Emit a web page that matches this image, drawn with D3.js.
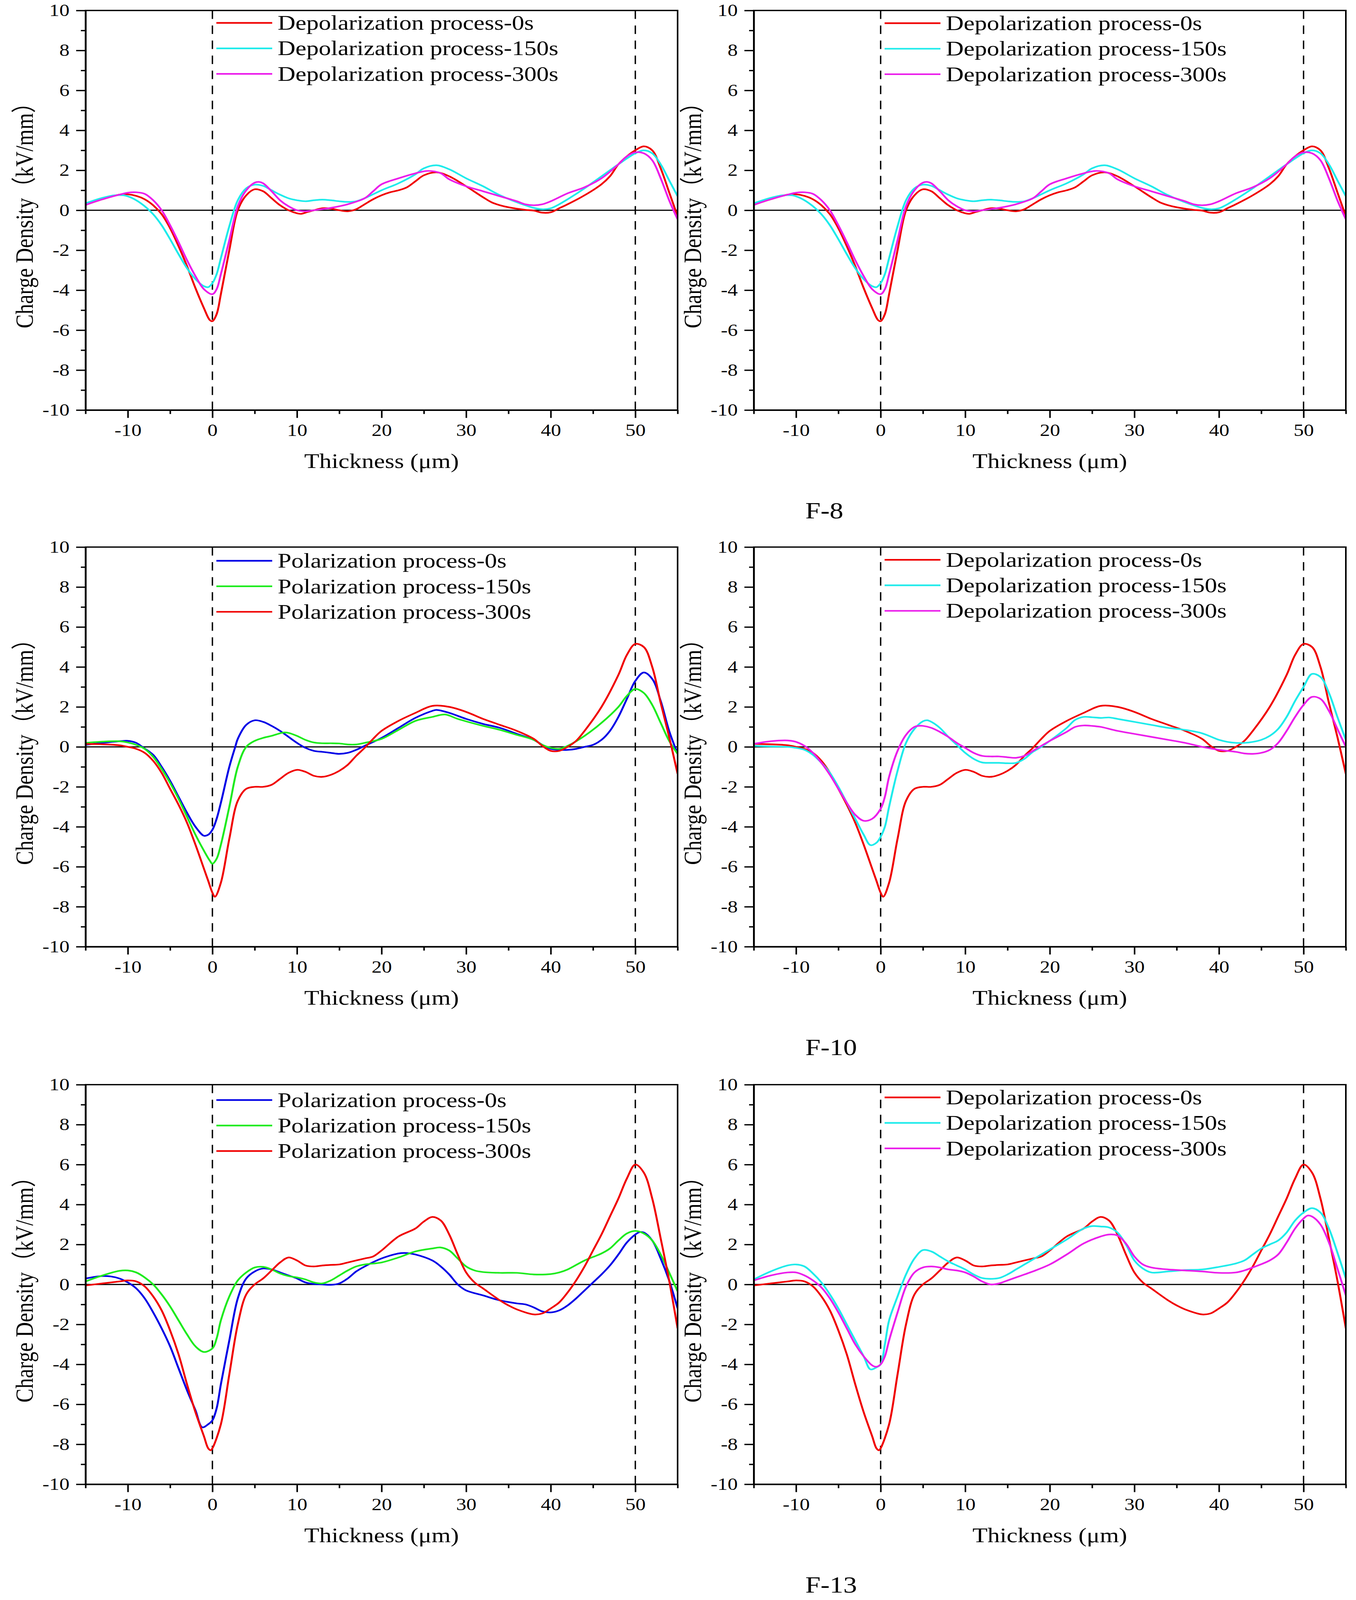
<!DOCTYPE html>
<html>
<head>
<meta charset="utf-8">
<script src="https://cdn.jsdelivr.net/npm/d3@7/dist/d3.min.js"></script>
<style>
  html, body { margin: 0; padding: 0; background: #ffffff; overflow: hidden; }
  svg { display: block; }
  text { font-family: "Liberation Serif", "Times New Roman", "Noto Sans CJK SC", serif; fill: #000; }
</style>
</head>
<body>
<script>
// ---------------- DATA ----------------
const xMajorTicks = [-10, 0, 10, 20, 30, 40, 50];
const xMinorTicks = [-15, -5, 5, 15, 25, 35, 45, 55];
const yMajorTicks = [-10, -8, -6, -4, -2, 0, 2, 4, 6, 8, 10];
const yMinorTicks = [-9, -7, -5, -3, -1, 1, 3, 5, 7, 9];
const electrodeLines = [0, 50];

const depolLabels = ["Depolarization process-0s", "Depolarization process-150s", "Depolarization process-300s"];
const polLabels = ["Polarization process-0s", "Polarization process-150s", "Polarization process-300s"];
const sampleLabels = ["F-8", "F-10", "F-13"];

// F-8, depolarization
const f8Depol0 = [[-15,0.27],[-13,0.55],[-11,0.78],[-10,0.8],[-9,0.72],[-8,0.55],[-7,0.25],[-6,-0.2],[-5,-0.9],[-4,-1.8],[-3,-2.8],[-2,-3.9],[-1,-4.9],[-0.3,-5.5],[0,-5.55],[0.5,-5.2],[1,-4.2],[2,-2.0],[3,0.0],[4,0.75],[5,1.05],[6,0.95],[7,0.6],[8,0.25],[9,0.0],[10,-0.15],[10.5,-0.18],[11,-0.12],[12,0.0],[13,0.1],[14,0.08],[15,0.0],[16,-0.05],[17,0.05],[18,0.3],[19,0.55],[20,0.75],[21,0.9],[22,1.0],[23,1.15],[24,1.45],[25,1.75],[26.5,1.9],[28,1.7],[30,1.2],[32,0.65],[33,0.4],[34,0.25],[35,0.15],[37,0.02],[38,-0.02],[39,-0.12],[40,-0.1],[41,0.1],[42,0.3],[44,0.75],[46,1.3],[47,1.7],[48,2.3],[49,2.7],[50,3.0],[51,3.2],[52,3.0],[53,2.1],[54,0.9],[55,-0.3]];
const f8Depol150 = [[-15,0.35],[-13,0.62],[-11.5,0.75],[-10.5,0.75],[-10,0.7],[-9,0.5],[-8,0.2],[-7,-0.2],[-6,-0.75],[-5,-1.45],[-4,-2.2],[-3,-2.9],[-2,-3.45],[-1,-3.8],[-0.5,-3.85],[0,-3.65],[0.5,-3.2],[1,-2.4],[2,-0.8],[3,0.5],[4,1.1],[5,1.28],[6,1.22],[7,1.0],[8,0.78],[9,0.6],[10,0.5],[11,0.45],[12,0.5],[13,0.53],[14,0.5],[15,0.45],[16,0.42],[17,0.45],[18,0.6],[20,1.0],[22,1.35],[24,1.8],[25,2.1],[26.5,2.25],[28,2.05],[30,1.6],[32,1.2],[34,0.75],[36,0.4],[38,0.12],[39,0.05],[40,0.1],[41,0.3],[42,0.55],[44,1.1],[46,1.7],[48,2.3],[50,2.85],[51,3.0],[52,2.85],[53,2.3],[54,1.5],[55,0.7]];
const f8Depol300 = [[-15,0.27],[-13,0.55],[-11,0.78],[-10,0.88],[-9,0.9],[-8,0.82],[-7,0.5],[-6,0.0],[-5,-0.75],[-4,-1.6],[-3,-2.5],[-2,-3.3],[-1,-3.95],[0,-4.2],[0.5,-3.95],[1,-3.2],[2,-1.5],[3,0.2],[4,1.0],[5,1.38],[5.5,1.42],[6,1.35],[7,0.95],[8,0.5],[9,0.2],[10,0.0],[11,-0.05],[12,0.0],[14,0.12],[16,0.3],[18,0.6],[19,0.95],[20,1.3],[22,1.6],[24,1.85],[25.5,1.97],[27,1.85],[28,1.55],[30,1.2],[32,0.95],[34,0.7],[36,0.45],[37,0.3],[38,0.25],[39,0.3],[40,0.45],[42,0.85],[44,1.15],[46,1.6],[48,2.3],[49,2.7],[50,2.9],[51,2.85],[52,2.5],[53,1.6],[54,0.5],[55,-0.45]];

// F-10, polarization
const f10Pol0 = [[-15,0.1],[-13,0.2],[-11,0.28],[-10,0.3],[-9,0.2],[-8.3,0.0],[-7,-0.4],[-6,-1.0],[-5,-1.7],[-4,-2.5],[-3,-3.3],[-2,-4.0],[-1,-4.45],[-0.5,-4.4],[0,-4.15],[0.5,-3.6],[1,-2.8],[2,-1.0],[2.7,0.0],[3,0.4],[4,1.1],[5,1.33],[6,1.25],[7,1.05],[8,0.8],[9,0.5],[10,0.2],[11,-0.05],[12,-0.2],[13,-0.25],[14,-0.3],[15,-0.35],[16,-0.3],[17,-0.15],[18,0.05],[20,0.45],[22,0.95],[24,1.45],[26,1.8],[26.5,1.85],[28,1.7],[30,1.4],[32,1.15],[34,0.95],[36,0.65],[38,0.35],[39,0.1],[40,-0.1],[41,-0.15],[42,-0.15],[43,-0.1],[44,0.0],[45,0.1],[46,0.35],[47,0.8],[48,1.5],[49,2.4],[50,3.3],[51,3.72],[52,3.4],[53,2.3],[54,0.8],[55,-0.35]];
const f10Pol150 = [[-15,0.2],[-13,0.26],[-11,0.28],[-10,0.22],[-9,0.1],[-8,-0.1],[-7,-0.5],[-6,-1.1],[-5,-1.8],[-4,-2.6],[-3,-3.5],[-2,-4.4],[-1,-5.2],[-0.3,-5.7],[0,-5.85],[0.5,-5.6],[1,-4.9],[2,-3.0],[3,-1.0],[4,0.0],[5,0.3],[6,0.45],[7,0.55],[8,0.68],[8.5,0.72],[9,0.7],[10,0.55],[11,0.35],[12,0.22],[13,0.18],[14,0.18],[15,0.17],[16,0.12],[17,0.12],[18,0.2],[20,0.4],[22,0.85],[24,1.3],[26,1.5],[27.5,1.62],[29,1.4],[32,1.05],[34,0.85],[36,0.6],[38,0.35],[39,0.1],[40,-0.05],[41,-0.1],[42,0.05],[44,0.55],[46,1.2],[48,2.0],[49,2.55],[50,2.9],[51,2.7],[52,2.1],[53,1.2],[54,0.3],[55,-0.35]];
const f10Pol300 = [[-15,0.15],[-13,0.13],[-11,0.08],[-10,0.0],[-9,-0.1],[-8,-0.3],[-7,-0.7],[-6,-1.3],[-5,-2.1],[-4,-2.9],[-3,-3.8],[-2,-4.9],[-1,-6.1],[-0.5,-6.7],[0,-7.3],[0.3,-7.5],[1,-6.8],[2,-4.6],[3,-2.7],[4,-2.1],[5,-2.0],[6,-2.0],[7,-1.9],[8,-1.6],[9,-1.3],[10,-1.15],[11,-1.25],[12,-1.45],[13,-1.5],[14,-1.4],[15,-1.2],[16,-0.9],[17,-0.45],[18,-0.05],[19,0.4],[20,0.8],[22,1.3],[24,1.7],[26,2.05],[28,2.0],[30,1.75],[32,1.4],[34,1.1],[36,0.8],[38,0.4],[39,0.05],[40,-0.2],[41,-0.2],[42,0.0],[43,0.3],[44,0.8],[46,2.0],[48,3.6],[49,4.6],[50,5.15],[51,5.0],[52,4.0],[53,2.2],[54,0.5],[55,-1.35]];
// F-10, depolarization (0s curve is the same measurement as polarization 300s)
const f10Depol0 = f10Pol300;
const f10Depol150 = [[-15,0.05],[-13,0.02],[-11,0.0],[-10,-0.05],[-9,-0.15],[-8,-0.4],[-7,-0.8],[-6,-1.3],[-5,-2.0],[-4,-2.8],[-3,-3.6],[-2,-4.4],[-1.2,-4.92],[-0.5,-4.8],[0,-4.5],[0.5,-4.0],[1,-3.0],[2,-1.2],[3,0.2],[4,0.9],[5,1.28],[5.5,1.33],[6,1.25],[7,0.95],[8,0.5],[9,0.1],[10,-0.3],[11,-0.6],[12,-0.78],[13,-0.8],[14,-0.8],[15,-0.82],[16,-0.8],[17,-0.6],[18,-0.25],[19,0.0],[20,0.3],[22,0.95],[23,1.35],[24,1.5],[25,1.48],[26,1.45],[27,1.47],[28,1.4],[30,1.25],[32,1.1],[34,0.95],[36,0.85],[38,0.68],[40,0.35],[41,0.25],[42,0.2],[43,0.2],[44,0.25],[45,0.35],[46,0.55],[47,0.9],[48,1.5],[49,2.3],[50,3.0],[51,3.65],[52,3.5],[53,2.7],[54,1.5],[55,0.35]];
const f10Depol300 = [[-15,0.15],[-13,0.28],[-11,0.32],[-10,0.25],[-9,0.05],[-8,-0.3],[-7,-0.8],[-6,-1.4],[-5,-2.1],[-4,-2.8],[-3,-3.4],[-2,-3.7],[-1,-3.6],[0,-3.1],[0.5,-2.5],[1,-1.5],[2,-0.2],[3,0.6],[4,1.0],[4.5,1.05],[5,1.05],[6,0.95],[7,0.75],[8,0.5],[9,0.2],[10,-0.05],[11,-0.3],[12,-0.45],[13,-0.48],[14,-0.48],[15,-0.52],[16,-0.55],[17,-0.45],[18,-0.2],[19,0.05],[20,0.3],[22,0.75],[23,1.0],[24,1.07],[25,1.05],[26,1.0],[28,0.8],[30,0.65],[32,0.5],[34,0.35],[36,0.2],[38,0.0],[40,-0.15],[42,-0.25],[43,-0.33],[44,-0.35],[45,-0.3],[46,-0.15],[47,0.2],[48,0.8],[49,1.5],[50,2.1],[51,2.5],[52,2.4],[53,1.8],[54,0.9],[55,0.0]];

// F-13, polarization
const f13Pol0 = [[-15,0.3],[-13,0.42],[-12,0.4],[-11,0.3],[-10,0.1],[-9,-0.2],[-8,-0.7],[-7,-1.4],[-6,-2.2],[-5,-3.1],[-4,-4.2],[-3,-5.3],[-2,-6.3],[-1.2,-7.15],[-0.5,-7.0],[0,-6.8],[0.5,-6.2],[1,-5.0],[2,-2.8],[3,-0.7],[4,0.3],[5,0.65],[6,0.8],[7,0.75],[8,0.6],[9,0.45],[10,0.3],[11,0.1],[12,0.02],[13,0.0],[14,-0.02],[15,0.05],[16,0.3],[17,0.65],[18,0.9],[20,1.3],[22,1.55],[23,1.57],[24,1.5],[26,1.2],[27,0.9],[28,0.5],[29,0.0],[30,-0.3],[32,-0.55],[34,-0.8],[36,-0.95],[37,-1.0],[38,-1.15],[39,-1.35],[40,-1.4],[41,-1.3],[42,-1.05],[43,-0.7],[44,-0.3],[45,0.1],[46,0.5],[47,0.95],[48,1.5],[49,2.1],[50,2.5],[50.5,2.62],[51,2.6],[52,2.2],[53,1.3],[54,0.2],[55,-1.2]];
const f13Pol150 = [[-15,0.15],[-13,0.45],[-11,0.68],[-10,0.7],[-9,0.6],[-8,0.35],[-7,0.0],[-6,-0.5],[-5,-1.1],[-4,-1.8],[-3,-2.5],[-2,-3.1],[-1,-3.38],[0,-3.2],[0.5,-2.7],[1,-1.8],[2,-0.6],[3,0.2],[4,0.6],[5,0.85],[6,0.88],[7,0.75],[8,0.55],[9,0.42],[10,0.35],[11,0.25],[12,0.1],[13,0.05],[14,0.2],[15,0.45],[16,0.7],[17,0.9],[18,1.0],[20,1.1],[22,1.35],[24,1.65],[26,1.8],[27,1.85],[28,1.7],[29,1.3],[30,0.9],[31,0.7],[32,0.62],[34,0.58],[36,0.58],[38,0.5],[40,0.52],[41,0.6],[42,0.75],[44,1.2],[46,1.55],[47,1.8],[48,2.2],[49,2.55],[50,2.68],[51,2.55],[52,2.2],[53,1.5],[54,0.6],[55,-0.35]];
const f13Pol300 = [[-15,-0.05],[-13,0.05],[-11,0.15],[-10,0.2],[-9,0.15],[-8,-0.1],[-7,-0.6],[-6,-1.3],[-5,-2.3],[-4,-3.5],[-3,-5.0],[-2,-6.4],[-1,-7.6],[-0.5,-8.2],[-0.2,-8.3],[0,-8.2],[1,-7.0],[2,-4.5],[3,-2.0],[4,-0.5],[5,0.0],[6,0.3],[7,0.7],[8,1.1],[9,1.35],[10,1.2],[11,0.95],[12,0.9],[13,0.95],[14,0.98],[15,1.0],[16,1.1],[17,1.2],[18,1.3],[19,1.4],[20,1.7],[22,2.4],[24,2.8],[25,3.15],[26,3.38],[27,3.2],[28,2.5],[29,1.5],[30,0.6],[31,0.1],[32,-0.2],[34,-0.8],[35,-1.05],[36,-1.25],[38,-1.5],[39,-1.45],[40,-1.2],[41,-0.9],[42,-0.4],[43,0.2],[44,0.9],[45,1.7],[46,2.5],[47,3.4],[48,4.3],[49,5.3],[50,6.0],[51,5.6],[52,4.3],[53,2.3],[54,0.2],[55,-2.2]];
// F-13, depolarization
const f13Depol0 = f13Pol300;
const f13Depol150 = [[-15,0.25],[-13,0.65],[-11,0.95],[-10,1.0],[-9,0.9],[-8,0.55],[-7,0.1],[-6,-0.5],[-5,-1.2],[-4,-2.0],[-3,-2.8],[-2,-3.6],[-1.2,-4.25],[-0.5,-4.15],[0,-4.0],[0.5,-3.0],[1,-1.8],[2,-0.6],[3,0.5],[4,1.3],[5,1.72],[6,1.65],[7,1.4],[8,1.15],[9,0.95],[10,0.75],[11,0.5],[12,0.32],[13,0.28],[14,0.32],[15,0.5],[16,0.75],[17,1.0],[18,1.25],[20,1.75],[22,2.25],[24,2.8],[25,2.92],[26,2.9],[27,2.85],[28,2.6],[29,2.0],[30,1.2],[31,0.8],[32,0.6],[34,0.65],[36,0.72],[38,0.75],[40,0.88],[42,1.05],[43,1.2],[44,1.5],[45,1.8],[46,2.0],[47,2.2],[48,2.6],[49,3.2],[50,3.6],[51,3.82],[52,3.6],[53,2.8],[54,1.6],[55,0.3]];
const f13Depol300 = [[-15,0.2],[-13,0.45],[-11,0.6],[-10,0.6],[-9,0.45],[-8,0.2],[-7,-0.15],[-6,-0.7],[-5,-1.4],[-4,-2.2],[-3,-3.0],[-2,-3.6],[-1,-4.05],[-0.5,-4.12],[0,-4.0],[0.5,-3.6],[1,-2.8],[2,-1.4],[3,-0.1],[4,0.6],[5,0.85],[6,0.9],[7,0.85],[8,0.75],[9,0.7],[10,0.6],[11,0.4],[12,0.15],[13,0.0],[14,0.05],[15,0.2],[16,0.35],[17,0.5],[18,0.65],[20,1.0],[22,1.5],[24,2.05],[26,2.4],[27,2.5],[28,2.45],[29,2.05],[30,1.4],[31,1.0],[32,0.85],[34,0.75],[36,0.7],[38,0.65],[40,0.58],[42,0.6],[43,0.7],[44,0.85],[46,1.2],[47,1.5],[48,2.1],[49,2.8],[50,3.3],[50.5,3.45],[51,3.4],[52,3.0],[53,2.1],[54,0.8],[55,-0.55]];

// ---------------- STYLE / LAYOUT ----------------
const RED = "#f00000", CYAN = "#1eebeb", MAGENTA = "#eb1eeb", BLUE = "#0000e6", GREEN = "#1eeb1e";
const W = 3472, H = 4893;
const rowTops = [32, 1673, 3317];
const colLefts = [219, 1930];
const PW = 1516, PH = 1222;

const panels = [
  { row: 0, col: 0, labels: depolLabels, colors: [RED, CYAN, MAGENTA], series: [f8Depol0, f8Depol150, f8Depol300], legTop: 38 },
  { row: 0, col: 1, labels: depolLabels, colors: [RED, CYAN, MAGENTA], series: [f8Depol0, f8Depol150, f8Depol300], legTop: 39 },
  { row: 1, col: 0, labels: polLabels,   colors: [BLUE, GREEN, RED],   series: [f10Pol0, f10Pol150, f10Pol300],   legTop: 42 },
  { row: 1, col: 1, labels: depolLabels, colors: [RED, CYAN, MAGENTA], series: [f10Depol0, f10Depol150, f10Depol300], legTop: 39 },
  { row: 2, col: 0, labels: polLabels,   colors: [BLUE, GREEN, RED],   series: [f13Pol0, f13Pol150, f13Pol300],   legTop: 47 },
  { row: 2, col: 1, labels: depolLabels, colors: [RED, CYAN, MAGENTA], series: [f13Depol0, f13Depol150, f13Depol300], legTop: 39 }
];

// Fit the full 3472x4893 drawing into whatever viewport the page gets.
const vw = window.innerWidth || W, vh = window.innerHeight || H;
const svg = d3.select("body").append("svg")
  .attr("width", vw).attr("height", vh)
  .attr("viewBox", `0 0 ${W} ${H}`)
  .attr("preserveAspectRatio", "none");
svg.append("rect").attr("width", W).attr("height", H).attr("fill", "#fff");

const x = d3.scaleLinear().domain([-15, 55]).range([0, PW]);
const y = d3.scaleLinear().domain([-10, 10]).range([PH, 0]);
const line = d3.line().x(d => x(d[0])).y(d => y(d[1])).curve(d3.curveCatmullRom.alpha(0.5));
const fmt = d => String(d);

panels.forEach((p, i) => {
  const g = svg.append("g").attr("transform", `translate(${colLefts[p.col]},${rowTops[p.row]})`);
  const clipId = "clip" + i;
  g.append("clipPath").attr("id", clipId).append("rect")
    .attr("x", 0).attr("y", 0).attr("width", PW).attr("height", PH);

  // zero line
  g.append("line").attr("x1", 0).attr("x2", PW).attr("y1", y(0)).attr("y2", y(0))
    .attr("stroke", "#000").attr("stroke-width", 3.5);

  // electrode dashed lines
  g.selectAll("line.elec").data(electrodeLines).enter().append("line")
    .attr("class", "elec")
    .attr("x1", d => x(d)).attr("x2", d => x(d))
    .attr("y1", PH).attr("y2", 0)
    .attr("stroke", "#000").attr("stroke-width", 3.5)
    .attr("stroke-dasharray", "26,20");

  // curves
  const cg = g.append("g").attr("clip-path", `url(#${clipId})`);
  p.series.forEach((s, k) => {
    cg.append("path").datum(s).attr("d", line)
      .attr("fill", "none").attr("stroke", p.colors[k])
      .attr("stroke-width", 5).attr("stroke-linejoin", "round");
  });

  // frame
  g.append("rect").attr("x", 0).attr("y", 0).attr("width", PW).attr("height", PH)
    .attr("fill", "none").attr("stroke", "#000").attr("stroke-width", 4);

  // axes
  const xa = g.append("g").attr("transform", `translate(0,${PH})`)
    .call(d3.axisBottom(x).tickValues(xMajorTicks).tickSize(24).tickSizeOuter(0).tickPadding(18).tickFormat(fmt));
  const xm = g.append("g").attr("transform", `translate(0,${PH})`)
    .call(d3.axisBottom(x).tickValues(xMinorTicks).tickSize(12).tickSizeOuter(0).tickFormat(""));
  const ya = g.append("g")
    .call(d3.axisLeft(y).tickValues(yMajorTicks).tickSize(24).tickSizeOuter(0).tickPadding(17).tickFormat(fmt));
  const ym = g.append("g")
    .call(d3.axisLeft(y).tickValues(yMinorTicks).tickSize(12).tickSizeOuter(0).tickFormat(""));
  [xa, xm, ya, ym].forEach(a => {
    a.select(".domain").attr("stroke", "#000").attr("stroke-width", 4);
    a.selectAll(".tick line").attr("stroke", "#000").attr("stroke-width", 4);
    a.selectAll(".tick text")
      .attr("font-family", "'Liberation Serif', 'Times New Roman', serif")
      .attr("font-size", 52).attr("fill", "#000");
  });

  // axis titles
  g.append("text").attr("x", PW / 2).attr("y", PH + 177)
    .attr("text-anchor", "middle").attr("font-size", 63)
    .text("Thickness (μm)");
  g.append("text")
    .attr("transform", `translate(-135,${PH / 2}) rotate(-90)`)
    .attr("text-anchor", "middle").attr("font-size", 64)
    .text("Charge Density（kV/mm）");

  // legend
  const lg = g.append("g");
  p.labels.forEach((lab, k) => {
    const ly = p.legTop + k * 78;
    lg.append("line").attr("x1", 335).attr("x2", 478).attr("y1", ly).attr("y2", ly)
      .attr("stroke", p.colors[k]).attr("stroke-width", 5);
    lg.append("text").attr("x", 492).attr("y", ly + 21)
      .attr("font-size", 63).text(lab);
  });
});

// sample labels
sampleLabels.forEach((s, r) => {
  svg.append("text").attr("x", 2062).attr("y", rowTops[r] + 1553)
    .attr("font-size", 70).text(s);
});
</script>
</body>
</html>
